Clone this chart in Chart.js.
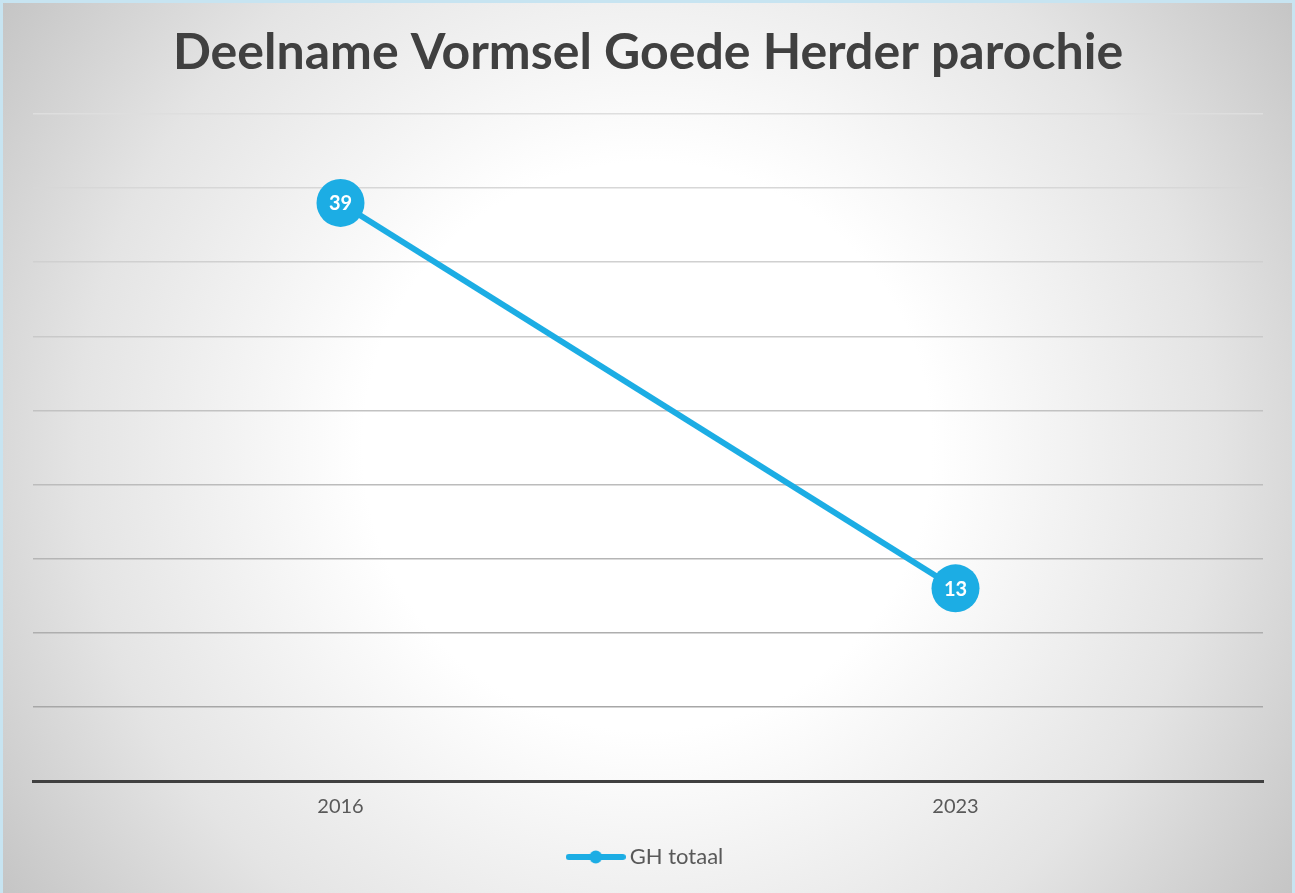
<!DOCTYPE html>
<html>
<head>
<meta charset="utf-8">
<script src="https://cdn.jsdelivr.net/npm/chart.js@4"></script>
<style>
  html, body { margin: 0; padding: 0; background: #ffffff; }
  #wrap { width: 1295px; height: 893px; position: relative; }
</style>
</head>
<body>
<div id="wrap"><canvas id="c" width="1295" height="893"></canvas></div>
<script>
const categories = ['2016', '2023'];
const seriesName = 'GH totaal';
const seriesValues = [39, 13];
const yMin = 0, yMax = 45, yStep = 5;

const lineColor = '#1cade4';

// legend marker: line with a dot
const marker = document.createElement('canvas');
marker.width = 60; marker.height = 16;
(function () {
  const m = marker.getContext('2d');
  m.strokeStyle = lineColor; m.lineWidth = 6; m.lineCap = 'round';
  m.beginPath(); m.moveTo(3, 8); m.lineTo(57, 8); m.stroke();
  m.fillStyle = lineColor;
  m.beginPath(); m.arc(30, 8, 6.5, 0, Math.PI * 2); m.fill();
})();

const bgPlugin = {
  id: 'bg',
  beforeDraw(chart) {
    const ctx = chart.ctx, w = chart.width, h = chart.height;
    ctx.save();
    const g = ctx.createRadialGradient(w * 0.5, h * 0.5, 0, w * 0.5, h * 0.5, 790);
    g.addColorStop(0, '#ffffff');
    g.addColorStop(0.36, '#ffffff');
    g.addColorStop(0.72, '#e4e4e4');
    g.addColorStop(1, '#c4c4c4');
    ctx.fillStyle = g;
    ctx.fillRect(0, 0, w, h);
    ctx.strokeStyle = '#c7e4f1';
    ctx.lineWidth = 3;
    ctx.beginPath();
    ctx.moveTo(1.5, h); ctx.lineTo(1.5, 1.5); ctx.lineTo(w - 1.5, 1.5); ctx.lineTo(w - 1.5, h);
    ctx.stroke();
    ctx.restore();
  }
};

const valueLabels = {
  id: 'valueLabels',
  afterDatasetsDraw(chart) {
    const ctx = chart.ctx;
    const meta = chart.getDatasetMeta(0);
    ctx.save();
    ctx.fillStyle = '#ffffff';
    ctx.font = 'bold 20px Lato, "DejaVu Sans", sans-serif';
    ctx.textAlign = 'center';
    ctx.textBaseline = 'middle';
    meta.data.forEach((pt, i) => {
      ctx.fillText(String(chart.data.datasets[0].data[i]), pt.x, pt.y + 1);
    });
    ctx.restore();
  }
};

new Chart(document.getElementById('c'), {
  type: 'line',
  data: {
    labels: categories,
    datasets: [{
      label: seriesName,
      data: seriesValues,
      borderColor: lineColor,
      backgroundColor: lineColor,
      borderWidth: 6,
      pointRadius: 24,
      pointHoverRadius: 24,
      pointBackgroundColor: lineColor,
      pointBorderWidth: 0,
      tension: 0,
      fill: false
    }]
  },
  options: {
    responsive: false,
    animation: false,
    events: [],
    layout: { padding: { left: 33, right: 32, top: 0, bottom: 15 } },
    plugins: {
      title: {
        display: true,
        text: 'Deelname Vormsel Goede Herder parochie',
        color: '#404040',
        font: { family: 'Lato, "DejaVu Sans", sans-serif', size: 50, weight: 'bold', lineHeight: 1.2 },
        padding: { top: 23, bottom: 31 }
      },
      legend: {
        display: true,
        position: 'bottom',
        labels: {
          color: '#595959',
          font: { family: 'Lato, "DejaVu Sans", sans-serif', size: 22 },
          usePointStyle: true,
          pointStyleWidth: 46,
          padding: 13,
          generateLabels(chart) {
            return [{
              text: seriesName,
              fontColor: '#595959',
              pointStyle: marker,
              fillStyle: lineColor,
              strokeStyle: lineColor,
              lineWidth: 0,
              hidden: false,
              datasetIndex: 0
            }];
          }
        }
      },
      tooltip: { enabled: false }
    },
    scales: {
      x: {
        offset: true,
        grid: { display: false, drawTicks: false },
        border: { display: true, color: '#404040', width: 3 },
        ticks: {
          color: '#595959',
          font: { family: 'Lato, "DejaVu Sans", sans-serif', size: 20 },
          padding: 14
        }
      },
      y: {
        min: yMin,
        max: yMax,
        ticks: { stepSize: yStep, display: false },
        border: { display: false },
        grid: {
          drawTicks: false,
          lineWidth: 1.5,
          color(ctx) {
            const v = ctx.tick ? ctx.tick.value : 0;
            const t = 1 - v / yMax;
            const c = Math.round(222 - t * 62);
            return 'rgb(' + c + ',' + c + ',' + c + ')';
          }
        }
      }
    }
  },
  plugins: [bgPlugin, valueLabels]
});
</script>
</body>
</html>
